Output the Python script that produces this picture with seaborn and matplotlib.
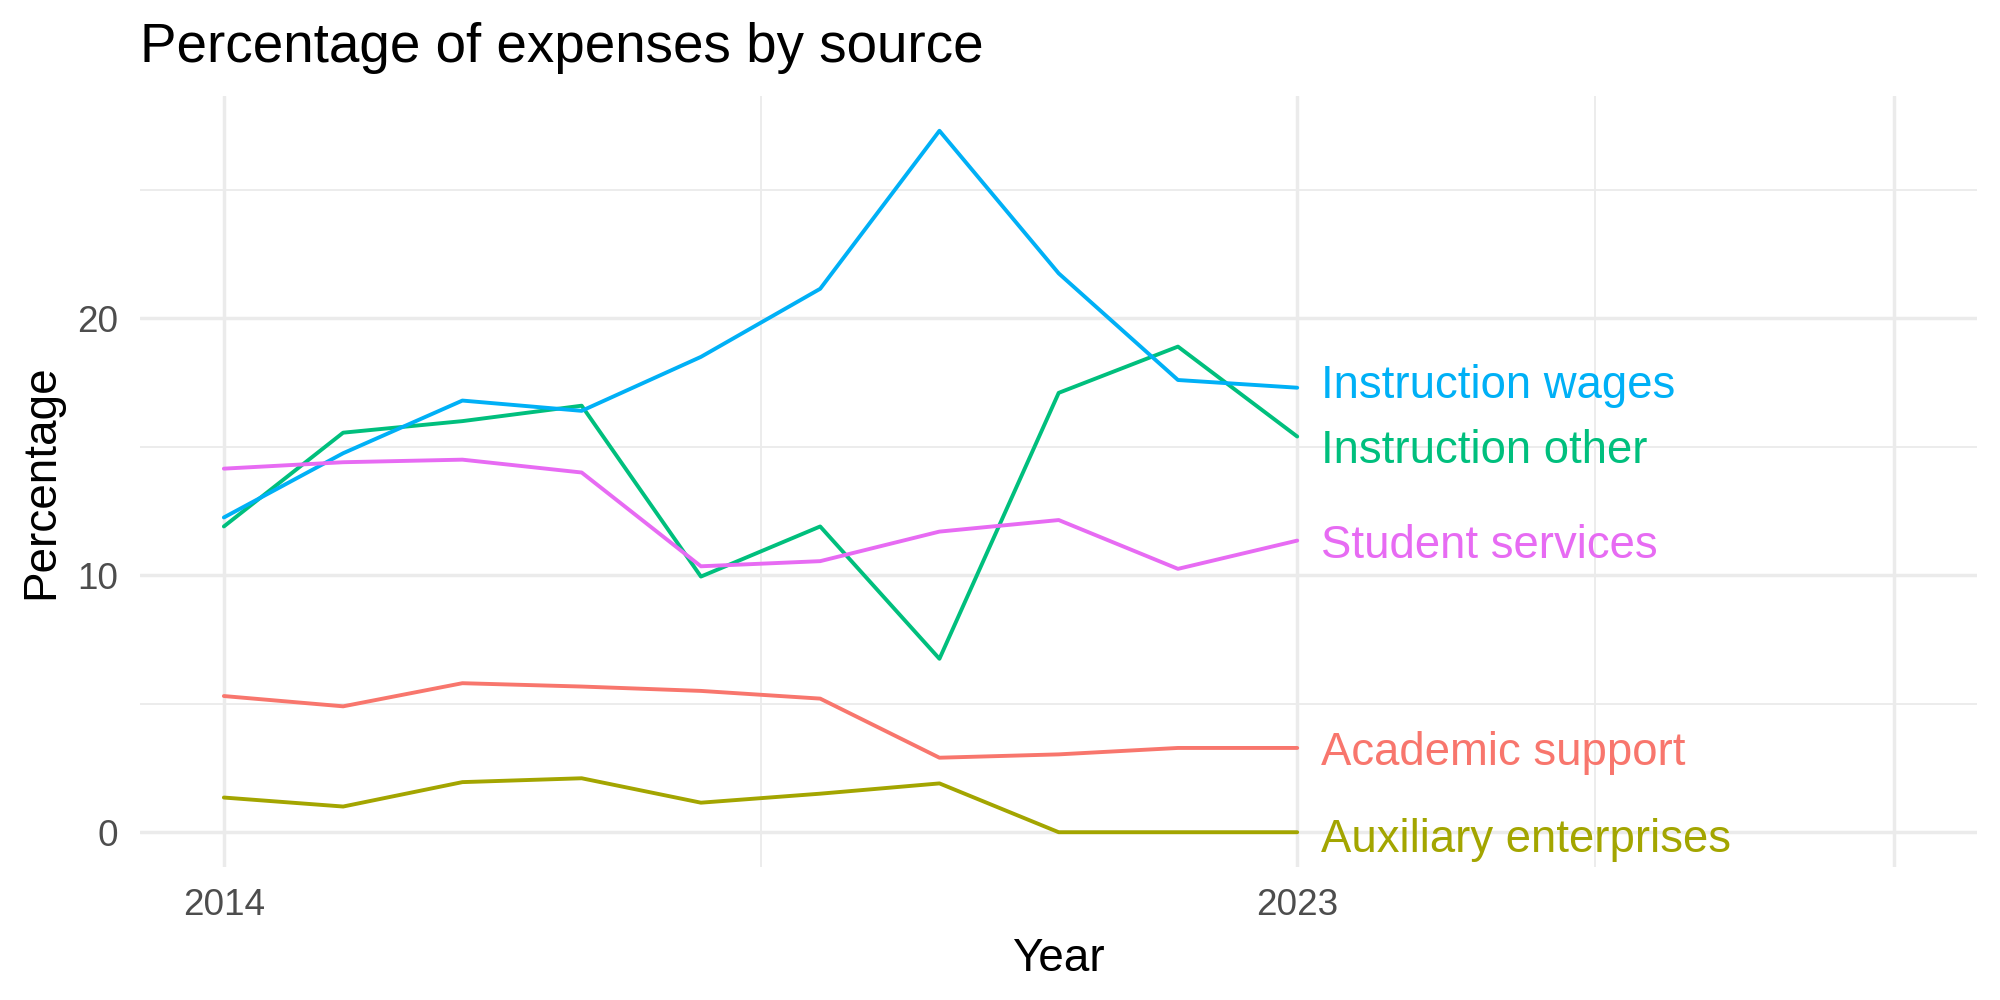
import numpy as np
import pandas as pd
import matplotlib
matplotlib.use("Agg")
import matplotlib.pyplot as plt
import seaborn as sns

years = [2014, 2015, 2016, 2017, 2018, 2019, 2020, 2021, 2022, 2023]
academic_support = [5.3, 4.9, 5.8, 5.67, 5.5, 5.2, 2.9, 3.03, 3.28, 3.28]
auxiliary_enterprises = [1.35, 1.0, 1.95, 2.1, 1.15, 1.5, 1.9, 0.0, 0.0, 0.0]
instruction_other = [11.9, 15.55, 16.0, 16.6, 9.95, 11.9, 6.75, 17.1, 18.9, 15.4]
instruction_wages = [12.25, 14.75, 16.8, 16.4, 18.5, 21.15, 27.3, 21.75, 17.6, 17.3]
student_services = [14.15, 14.4, 14.5, 14.0, 10.35, 10.55, 11.7, 12.15, 10.25, 11.35]

categories = ["Academic support", "Auxiliary enterprises", "Instruction other",
              "Instruction wages", "Student services"]
colors = ["#F8766D", "#A3A500", "#00BF7D", "#00B0F6", "#E76BF3"]
series = [academic_support, auxiliary_enterprises, instruction_other,
          instruction_wages, student_services]

x_breaks = [2014, 2023, 2028]
x_labels = ["2014", "2023", ""]
y_breaks = [0, 10, 20]

df = pd.DataFrame({
    "Year": np.tile(years, len(categories)),
    "Percentage": np.concatenate(series),
    "Source": np.repeat(categories, len(years)),
})

sns.set_theme(style="white")
plt.rcParams["font.family"] = ["Liberation Sans", "DejaVu Sans"]

fig = plt.figure(figsize=(10, 5), dpi=200)
ax = fig.add_axes([0.0702, 0.1327, 0.9885 - 0.0702, 0.9043 - 0.1327])

sns.lineplot(data=df, x="Year", y="Percentage", hue="Source",
             palette=dict(zip(categories, colors)), linewidth=1.4,
             ax=ax, legend=False, zorder=3)

# limits with ggplot-like 5% expansion
xmin, xmax = 2014, 2028
ymin, ymax = 0, max(max(s) for s in series)
ax.set_xlim(xmin - 0.05 * (xmax - xmin), xmax + 0.05 * (xmax - xmin))
ax.set_ylim(ymin - 0.05 * (ymax - ymin), ymax + 0.05 * (ymax - ymin))

ax.set_xticks(x_breaks)
ax.set_xticklabels(x_labels)
ax.set_xticks([(x_breaks[i] + x_breaks[i + 1]) / 2 for i in range(len(x_breaks) - 1)], minor=True)
ax.set_yticks(y_breaks)
ax.set_yticks([5, 15, 25], minor=True)

ax.grid(True, which="major", color="#EBEBEB", linewidth=1.25, zorder=0)
ax.grid(True, which="minor", color="#EBEBEB", linewidth=0.65, zorder=0)
ax.set_axisbelow(True)
for s in ax.spines.values():
    s.set_visible(False)
ax.tick_params(axis="both", which="both", length=0, labelsize=13.3,
               labelcolor="#4D4D4D")
ax.tick_params(axis="x", pad=7.5)
ax.tick_params(axis="y", pad=8)

ax.set_xlabel("Year", fontsize=16.5, color="black", labelpad=5)
ax.set_ylabel("Percentage", fontsize=16.5, color="black", labelpad=5)
ax.set_title("Percentage of expenses by source", fontsize=19.7, loc="left",
             color="black", pad=12)
ax.title.set_x(0.0)

# end labels (slightly repelled)
label_offsets = {"Academic support": -0.18, "Auxiliary enterprises": -0.3,
                 "Instruction other": -0.55, "Instruction wages": 0.05,
                 "Student services": -0.22}
for cat, col, s in zip(categories, colors, series):
    ax.text(years[-1] + 0.2, s[-1] + label_offsets[cat], cat, color=col,
            fontsize=16.4, va="center", ha="left", zorder=4)

fig.savefig("out.png", dpi=200, facecolor="white")
